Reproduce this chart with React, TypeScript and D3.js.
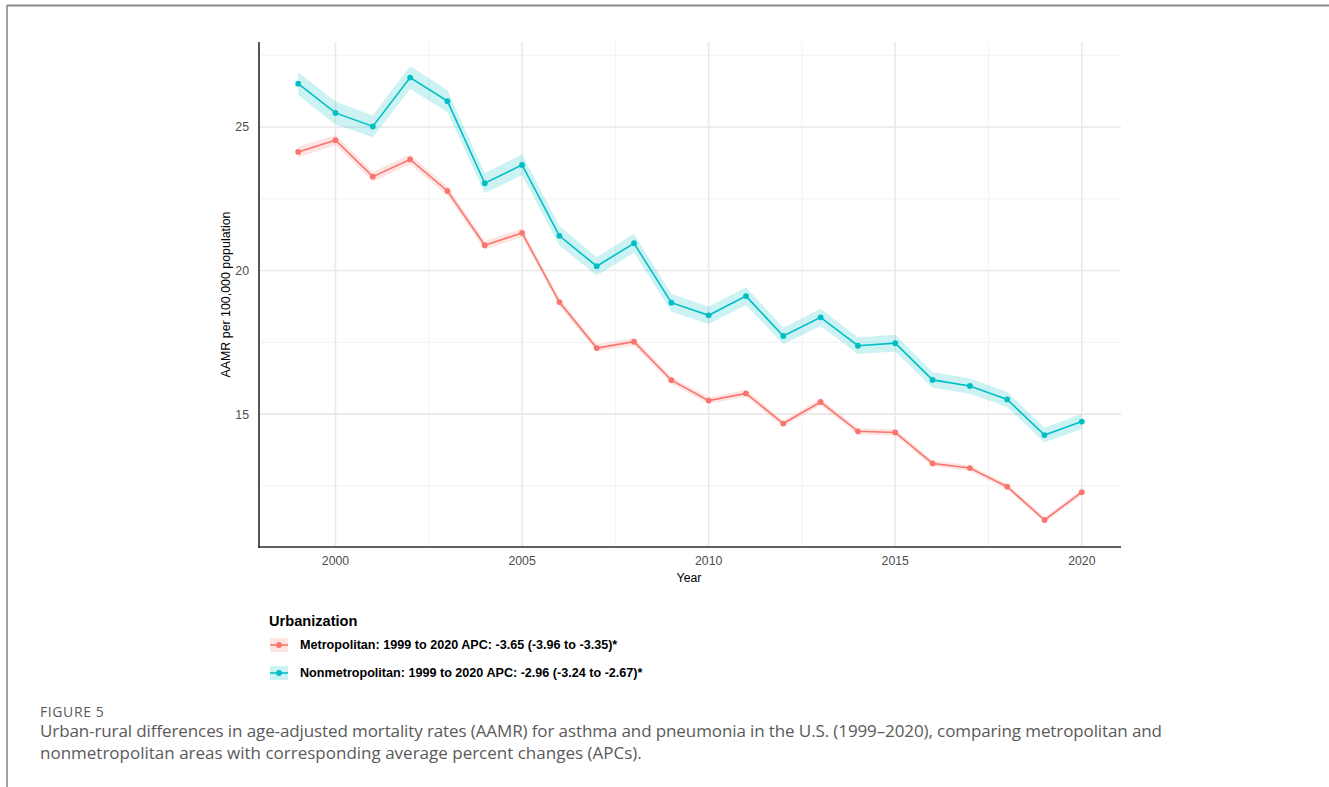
import React from "react";
import * as d3 from "d3";

// Age-adjusted mortality rates (per 100,000) for asthma and pneumonia, by urbanization
const years = [1999, 2000, 2001, 2002, 2003, 2004, 2005, 2006, 2007, 2008, 2009, 2010, 2011, 2012, 2013, 2014, 2015, 2016, 2017, 2018, 2019, 2020];

const metroRate = [24.13, 24.54, 23.27, 23.87, 22.77, 20.88, 21.31, 18.9, 17.3, 17.52, 16.18, 15.47, 15.72, 14.67, 15.42, 14.4, 14.36, 13.28, 13.12, 12.47, 11.31, 12.28];
const metroLower = [23.95, 24.36, 23.1, 23.7, 22.61, 20.73, 21.16, 18.76, 17.17, 17.39, 16.06, 15.35, 15.6, 14.56, 15.31, 14.29, 14.25, 13.18, 13.02, 12.37, 11.22, 12.18];
const metroUpper = [24.31, 24.72, 23.44, 24.04, 22.93, 21.03, 21.46, 19.04, 17.43, 17.65, 16.3, 15.59, 15.84, 14.78, 15.53, 14.51, 14.47, 13.38, 13.22, 12.57, 11.4, 12.38];

const nonmetroRate = [26.51, 25.49, 25.02, 26.72, 25.9, 23.04, 23.68, 21.21, 20.15, 20.95, 18.88, 18.44, 19.11, 17.72, 18.37, 17.38, 17.47, 16.19, 15.98, 15.51, 14.27, 14.74];
const nonmetroLower = [26.11, 25.09, 24.64, 26.32, 25.52, 22.69, 23.32, 20.87, 19.83, 20.62, 18.57, 18.14, 18.8, 17.43, 18.07, 17.09, 17.18, 15.92, 15.71, 15.25, 14.02, 14.48];
const nonmetroUpper = [26.91, 25.89, 25.4, 27.12, 26.28, 23.39, 24.04, 21.55, 20.47, 21.28, 19.19, 18.74, 19.42, 18.01, 18.67, 17.67, 17.76, 16.46, 16.25, 15.77, 14.52, 15.0];

const xMajorTicks = [2000, 2005, 2010, 2015, 2020];
const xMinorTicks = [2002.5, 2007.5, 2012.5, 2017.5];
const yMajorTicks = [15, 20, 25];
const yMinorTicks = [12.5, 17.5, 22.5, 27.5];

const seriesNames = [
  "Metropolitan: 1999 to 2020 APC: -3.65 (-3.96 to -3.35)*",
  "Nonmetropolitan: 1999 to 2020 APC: -2.96 (-3.24 to -2.67)*",
];
const seriesColors = ["#F8766D", "#00BFC4"];

type Row = { year: number; v: number; lo: number; hi: number };

function makeRows(v: number[], lo: number[], hi: number[]): Row[] {
  return years.map((year, i) => ({ year, v: v[i], lo: lo[i], hi: hi[i] }));
}

const series = [
  { name: seriesNames[0], color: seriesColors[0], rows: makeRows(metroRate, metroLower, metroUpper) },
  { name: seriesNames[1], color: seriesColors[1], rows: makeRows(nonmetroRate, nonmetroLower, nonmetroUpper) },
];

const W = 1329;
const H = 787;
const panel = { left: 259, right: 1121, top: 42, bottom: 547 };

export default function App() {
  const x = d3.scaleLinear().domain([1997.95, 2021.05]).range([panel.left, panel.right]);
  const y = d3.scaleLinear().domain([10.37, 27.96]).range([panel.bottom, panel.top]);

  const line = d3.line<Row>().x((d) => x(d.year)).y((d) => y(d.v));
  const band = d3
    .area<Row>()
    .x((d) => x(d.year))
    .y0((d) => y(d.lo))
    .y1((d) => y(d.hi));

  const sans = "'Liberation Sans', Arial, sans-serif";
  const captionFont = "'Open Sans', 'Noto Sans', sans-serif";

  return (
    <svg
      width={W}
      height={H}
      viewBox={`0 0 ${W} ${H}`}
      style={{ position: "absolute", left: 0, top: 0, background: "#fff" }}
    >
      {/* figure frame */}
      <line x1={7} y1={5.5} x2={W} y2={5.5} stroke="#8a8a8a" strokeWidth={2} />
      <line x1={7} y1={5} x2={7} y2={H} stroke="#8a8a8a" strokeWidth={1.6} />

      {/* grid */}
      <g>
        {yMinorTicks.map((t) => (
          <line key={`ym${t}`} x1={panel.left} x2={panel.right} y1={y(t)} y2={y(t)} stroke="#f0f0f0" strokeWidth={0.9} />
        ))}
        {xMinorTicks.map((t) => (
          <line key={`xm${t}`} x1={x(t)} x2={x(t)} y1={panel.top} y2={panel.bottom} stroke="#f0f0f0" strokeWidth={0.9} />
        ))}
        {yMajorTicks.map((t) => (
          <line key={`yM${t}`} x1={panel.left} x2={panel.right} y1={y(t)} y2={y(t)} stroke="#e9e9e9" strokeWidth={1.6} />
        ))}
        {xMajorTicks.map((t) => (
          <line key={`xM${t}`} x1={x(t)} x2={x(t)} y1={panel.top} y2={panel.bottom} stroke="#e9e9e9" strokeWidth={1.6} />
        ))}
      </g>

      {/* confidence bands */}
      {series.map((s) => (
        <path key={`band-${s.name}`} d={band(s.rows) ?? ""} fill={s.color} fillOpacity={0.2} stroke="none" />
      ))}

      {/* lines and points */}
      {series.map((s) => (
        <g key={`line-${s.name}`}>
          <path d={line(s.rows) ?? ""} fill="none" stroke={s.color} strokeWidth={1.6} />
          {s.rows.map((d) => (
            <circle key={d.year} cx={x(d.year)} cy={y(d.v)} r={2.9} fill={s.color} />
          ))}
        </g>
      ))}

      {/* axes lines */}
      <line x1={panel.left} x2={panel.left} y1={panel.top} y2={panel.bottom + 0.8} stroke="#2b2b2b" strokeWidth={1.6} />
      <line x1={panel.left - 0.8} x2={panel.right} y1={panel.bottom} y2={panel.bottom} stroke="#2b2b2b" strokeWidth={1.6} />

      {/* tick labels */}
      <g fontFamily={sans} fontSize={12.3} fill="#4d4d4d">
        {yMajorTicks.map((t) => (
          <text key={`yl${t}`} x={249} y={y(t)} dy="0.36em" textAnchor="end">
            {t}
          </text>
        ))}
        {xMajorTicks.map((t) => (
          <text key={`xl${t}`} x={x(t)} y={565} textAnchor="middle">
            {t}
          </text>
        ))}
      </g>

      {/* axis titles */}
      <text x={689} y={581.5} textAnchor="middle" fontFamily={sans} fontSize={12.3} fill="#000">
        Year
      </text>
      <text
        transform={`translate(229.5, ${(panel.top + panel.bottom) / 2}) rotate(-90)`}
        textAnchor="middle"
        fontFamily={sans}
        fontSize={12.4}
        fill="#000"
      >
        AAMR per 100,000 population
      </text>

      {/* legend */}
      <g fontFamily={sans}>
        <text x={269} y={626} fontSize={14.6} fontWeight="bold" fill="#000">
          Urbanization
        </text>
        {series.map((s, i) => {
          const ky = 638 + i * 28;
          return (
            <g key={`leg-${s.name}`}>
              <rect x={270} y={ky} width={18} height={14} fill={s.color} fillOpacity={0.2} />
              <line x1={270} x2={288} y1={ky + 7} y2={ky + 7} stroke={s.color} strokeWidth={1.6} />
              <circle cx={279} cy={ky + 7} r={2.9} fill={s.color} />
              <text x={300} y={ky + 11.3} fontSize={12.6} fontWeight="bold" fill="#000">
                {s.name}
              </text>
            </g>
          );
        })}
      </g>

      {/* caption */}
      <g fontFamily={captionFont} fill="#5a5a5a">
        <text x={40} y={716.5} fontSize={14} letterSpacing={0.6}>
          FIGURE 5
        </text>
        <text x={40} y={737} fontSize={17} textLength={1122} lengthAdjust="spacing">
          Urban-rural differences in age-adjusted mortality rates (AAMR) for asthma and pneumonia in the U.S. (1999–2020), comparing metropolitan and
        </text>
        <text x={40} y={759} fontSize={17}>
          nonmetropolitan areas with corresponding average percent changes (APCs).
        </text>
      </g>
    </svg>
  );
}
